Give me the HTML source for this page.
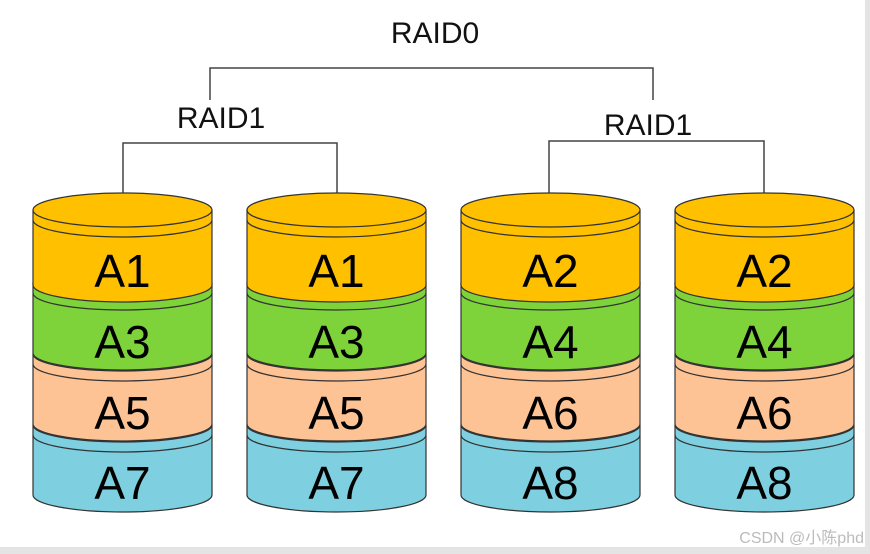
<!DOCTYPE html>
<html><head><meta charset="utf-8"><style>
html,body{margin:0;padding:0;background:#fff;}
svg{display:block;}
text{font-family:"Liberation Sans","Noto Sans CJK SC",sans-serif;}
</style></head><body>
<svg width="870" height="554" viewBox="0 0 870 554" xmlns="http://www.w3.org/2000/svg">
<rect x="0" y="0" width="870" height="554" fill="#fff"/>
<rect x="865" y="0" width="5" height="554" fill="#e4e4e4"/>
<rect x="0" y="547" width="870" height="7" fill="#e4e4e4"/>
<defs>
<g id="seg-b"><path d="M0,425 L0,495 A89.5,17 0 0 0 179,495 L179,425 Z" fill="#7ecfdf" stroke="#333" stroke-width="1.2"/><ellipse cx="89.5" cy="425" rx="89.5" ry="17" fill="#7ecfdf" stroke="#333" stroke-width="1.2"/><path d="M0,435 A89.5,17 0 0 0 179,435" fill="none" stroke="#333" stroke-width="1.2"/></g>
<g id="seg-p"><path d="M0,354 L0,424 A89.5,17 0 0 0 179,424 L179,354 Z" fill="#fec394" stroke="#333" stroke-width="1.2"/><ellipse cx="89.5" cy="354" rx="89.5" ry="17" fill="#fec394" stroke="#333" stroke-width="1.2"/><path d="M0,364 A89.5,17 0 0 0 179,364" fill="none" stroke="#333" stroke-width="1.2"/></g>
<g id="seg-g"><path d="M0,283 L0,353 A89.5,17 0 0 0 179,353 L179,283 Z" fill="#7ed33a" stroke="#333" stroke-width="1.2"/><ellipse cx="89.5" cy="283" rx="89.5" ry="17" fill="#7ed33a" stroke="#333" stroke-width="1.2"/><path d="M0,293 A89.5,17 0 0 0 179,293" fill="none" stroke="#333" stroke-width="1.2"/></g>
<g id="seg-o"><path d="M0,210 L0,285 A89.5,17 0 0 0 179,285 L179,210 Z" fill="#ffc000" stroke="#333" stroke-width="1.2"/><ellipse cx="89.5" cy="210" rx="89.5" ry="17" fill="#ffc000" stroke="#333" stroke-width="1.2"/><path d="M0,220 A89.5,17 0 0 0 179,220" fill="none" stroke="#333" stroke-width="1.2"/></g>
<g id="cyl"><use href="#seg-b"/><use href="#seg-p"/><use href="#seg-g"/><use href="#seg-o"/></g>
</defs>
<g fill="none" stroke="#444" stroke-width="1.5">
<path d="M210,100 V68 H653 V100"/>
<path d="M123,193 V143 H337 V193"/>
<path d="M549,193 V141 H764 V193"/>
</g>
<text x="435" y="43" font-size="30" text-anchor="middle" fill="#111">RAID0</text>
<text x="221" y="128" font-size="30" text-anchor="middle" fill="#111">RAID1</text>
<text x="648" y="135" font-size="30" text-anchor="middle" fill="#111">RAID1</text>
<use href="#cyl" x="33"/>
<use href="#cyl" x="247"/>
<use href="#cyl" x="461"/>
<use href="#cyl" x="675"/>
<g font-size="46" text-anchor="middle" fill="#000">
<text x="122.5" y="287">A1</text><text x="122.5" y="358">A3</text><text x="122.5" y="429">A5</text><text x="122.5" y="499">A7</text>
<text x="336.5" y="287">A1</text><text x="336.5" y="358">A3</text><text x="336.5" y="429">A5</text><text x="336.5" y="499">A7</text>
<text x="550.5" y="287">A2</text><text x="550.5" y="358">A4</text><text x="550.5" y="429">A6</text><text x="550.5" y="499">A8</text>
<text x="764.5" y="287">A2</text><text x="764.5" y="358">A4</text><text x="764.5" y="429">A6</text><text x="764.5" y="499">A8</text>
</g>
<text x="864" y="543" font-size="16" text-anchor="end" fill="#bbbbbb">CSDN @小陈phd</text>
</svg>
</body></html>
